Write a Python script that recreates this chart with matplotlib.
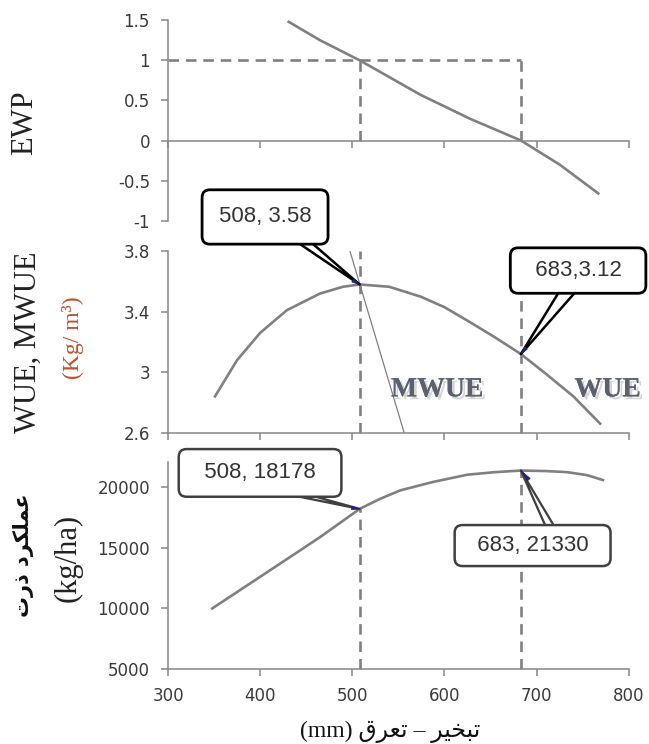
import matplotlib
matplotlib.use('Agg')
import matplotlib.pyplot as plt
import matplotlib.patheffects as pe

plt.rcParams['axes.unicode_minus'] = False
plt.rcParams['font.family'] = ['DejaVu Sans']

# ---------------- data ----------------
x_ticks = [300, 400, 500, 600, 700, 800]

ewp_x = [431, 465, 508, 574, 628, 683, 725, 767]
ewp_y = [1.48, 1.25, 1.0, 0.57, 0.27, 0.0, -0.30, -0.66]
ewp_ticks = [-1, -0.5, 0, 0.5, 1, 1.5]
ewp_labels = ['-1', '-0.5', '0', '0.5', '1', '1.5']

wue_x = [351, 375, 400, 429, 465, 490, 508, 540, 574, 600, 628, 655, 683, 710, 740, 769]
wue_y = [2.84, 3.08, 3.26, 3.41, 3.52, 3.565, 3.58, 3.565, 3.50, 3.43, 3.33, 3.23, 3.12, 2.99, 2.84, 2.66]
mwue_x = [497, 557]
mwue_y = [3.81, 2.585]
wue_ticks = [2.6, 3.0, 3.4, 3.8]
wue_labels = ['2.6', '3', '3.4', '3.8']

yield_x = [348, 380, 411, 440, 465, 508, 530, 552, 588, 625, 655, 683, 710, 733, 755, 772]
yield_y = [10000, 11600, 13150, 14600, 15860, 18178, 19000, 19700, 20400, 20990, 21200, 21330, 21290, 21200, 20950, 20550]
yield_ticks = [5000, 10000, 15000, 20000]

opt_x = [508, 683]          # ET at max WUE and max yield
opt_wue = [3.58, 3.12]
opt_yield = [18178, 21330]
ewp_ref = [1, 0]

# ---------------- simple Arabic shaping (presentation forms, visual order) ----------------
FORMS = {  # isolated, final, initial, medial
    'ع': ('\uFEC9', '\uFECA', '\uFECB', '\uFECC'),
    'م': ('\uFEE1', '\uFEE2', '\uFEE3', '\uFEE4'),
    'ل': ('\uFEDD', '\uFEDE', '\uFEDF', '\uFEE0'),
    'ک': ('\uFB8E', '\uFB8F', '\uFB90', '\uFB91'),
    'ر': ('\uFEAD', '\uFEAE', None, None),
    'د': ('\uFEA9', '\uFEAA', None, None),
    'ذ': ('\uFEAB', '\uFEAC', None, None),
    'ت': ('\uFE95', '\uFE96', '\uFE97', '\uFE98'),
    'ب': ('\uFE8F', '\uFE90', '\uFE91', '\uFE92'),
    'خ': ('\uFEA5', '\uFEA6', '\uFEA7', '\uFEA8'),
    'ی': ('\uFBFC', '\uFBFD', '\uFBFE', '\uFBFF'),
    'ق': ('\uFED5', '\uFED6', '\uFED7', '\uFED8'),
}


def rtl(text):
    out = []
    n = len(text)
    for i, ch in enumerate(text):
        f = FORMS.get(ch)
        if f is None:
            out.append(ch)
            continue
        prev = text[i - 1] if i > 0 else None
        nxt = text[i + 1] if i < n - 1 else None
        jp = prev in FORMS and FORMS[prev][2] is not None
        jn = nxt in FORMS and f[2] is not None
        if jp and jn:
            g = f[3]
        elif jp:
            g = f[1]
        elif jn:
            g = f[2]
        else:
            g = f[0]
        out.append(g)
    return ''.join(reversed(out))


yield_label_fa = 'عملکرد ذرت'
xlabel_fa = 'تبخیر – تعرق'

# ---------------- figure ----------------
W, H = 649, 744
fig = plt.figure(figsize=(W / 100, H / 100), dpi=100)


def rect(top_px, bottom_px, left_px=168, right_px=628.7):
    return [left_px / W, 1 - bottom_px / H, (right_px - left_px) / W, (bottom_px - top_px) / H]


ax1 = fig.add_axes(rect(20.2, 220.7))
ax2 = fig.add_axes(rect(251.2, 432.7))
ax3 = fig.add_axes(rect(462.4, 669.3))

SP = '#868686'
CUR = '#808080'
TXT = '#3a3a3a'

for ax in (ax1, ax2, ax3):
    for s in ('top', 'right'):
        ax.spines[s].set_visible(False)
    for s in ('left', 'bottom'):
        ax.spines[s].set_color(SP)
        ax.spines[s].set_linewidth(1.1)
    ax.set_xlim(300, 800)
    ax.set_xticks(x_ticks)
    ax.tick_params(axis='both', direction='out', length=5, width=1.1, color=SP,
                   labelsize=12, labelcolor=TXT, pad=8)
    ax.patch.set_alpha(0)

# top: EWP
ax1.set_ylim(-1, 1.5)
ax1.set_yticks(ewp_ticks)
ax1.set_yticklabels(ewp_labels)
ax1.spines['bottom'].set_position(('data', 0))
ax1.tick_params(axis='x', labelbottom=False)
ax1.plot(ewp_x, ewp_y, color=CUR, lw=1.9)

dash = (0, (4, 2.6))
ax1.plot([300, opt_x[1]], [ewp_ref[0], ewp_ref[0]], color=CUR, lw=1.9, linestyle=dash, clip_on=False)
for xv in opt_x:
    ax1.plot([xv, xv], [ewp_ref[1], ewp_ref[0]], color=CUR, lw=1.9, linestyle=dash, clip_on=False)

# middle: WUE / MWUE
ax2.set_ylim(2.6, 3.8)
ax2.set_yticks(wue_ticks)
ax2.set_yticklabels(wue_labels)
ax2.tick_params(axis='x', labelbottom=False)
ax2.plot(wue_x, wue_y, color=CUR, lw=1.9)
ax2.plot(mwue_x, mwue_y, color=CUR, lw=0.9)
ax2.plot([opt_x[0], opt_x[0]], [2.6, 3.8], color=CUR, lw=1.9, linestyle=dash, clip_on=False)
ax2.plot([opt_x[1], opt_x[1]], [2.6, 3.55], color=CUR, lw=1.9, linestyle=dash, clip_on=False)

shadow = [pe.withSimplePatchShadow(offset=(2, -2), shadow_rgbFace='#bbbbbb', alpha=0.6), pe.Normal()]
ax2.text(592, 2.883, 'MWUE', fontsize=20, fontweight='bold', family='Liberation Serif',
         color='#5c6070', ha='center', va='center', path_effects=shadow)
ax2.text(777, 2.883, 'WUE', fontsize=20, fontweight='bold', family='Liberation Serif',
         color='#5c6070', ha='center', va='center', path_effects=shadow, clip_on=False)

# bottom: yield
ax3.set_ylim(5000, 22000)
ax3.set_yticks(yield_ticks)
ax3.plot(yield_x, yield_y, color=CUR, lw=1.9)
ax3.plot([opt_x[0], opt_x[0]], [5000, opt_yield[0]], color=CUR, lw=1.9, linestyle=dash, clip_on=False)
ax3.plot([opt_x[1], opt_x[1]], [5000, opt_yield[1]], color=CUR, lw=1.9, linestyle=dash, clip_on=False)


def callout(ax, label, xy, off, relpos, ec, lw, pad, tw, tip):
    ax.annotate(label, xy=xy, xytext=off, textcoords='offset pixels',
                ha='center', va='center', fontsize=16, family='Liberation Sans', color='#333333',
                bbox=dict(boxstyle='round,pad=%s,rounding_size=0.35' % pad, fc='white', ec=ec, lw=lw),
                arrowprops=dict(arrowstyle='wedge,tail_width=%s' % tw, fc='white', ec=ec, lw=lw * 0.9,
                                relpos=relpos, shrinkA=0, shrinkB=0, patchA=None),
                annotation_clip=False, zorder=6)
    # small dark-blue tip at the pointed end
    ax.annotate('', xy=xy, xytext=tip, textcoords='offset pixels',
                arrowprops=dict(arrowstyle='wedge,tail_width=0.25', fc='#1a237e', ec='#1a237e', lw=0.5,
                                shrinkA=0, shrinkB=0),
                annotation_clip=False, zorder=7)


callout(ax2, '%d, %.2f' % (opt_x[0], opt_wue[0]), (opt_x[0], opt_wue[0]), (-94.6, 67.5), (0.72, 0.0),
        'black', 2.0, 0.75, 0.5, (-7, 4))
callout(ax2, '  %d,%.2f  ' % (opt_x[1], opt_wue[1]), (opt_x[1], opt_wue[1]), (57.2, 83.5), (0.47, 0.0),
        'black', 2.0, 0.55, 0.7, (5, 6))
callout(ax3, '  %d, %d  ' % (opt_x[0], opt_yield[0]), (opt_x[0], opt_yield[0]), (-99.6, 36.0), (0.45, 0.0),
        '#404040', 1.8, 0.6, 0.35, (-8, 1))
callout(ax3, '  %d, %d  ' % (opt_x[1], opt_yield[1]), (opt_x[1], opt_yield[1]), (11.7, -75.0), (0.66, 1.0),
        '#404040', 1.8, 0.45, 0.4, (8, -9))

# axis titles
def ftext(xp, yp, s, **kw):
    fig.text(xp / W, 1 - yp / H, s, ha='center', va='center', **kw)


ftext(25, 123, 'EWP', rotation=90, fontsize=22, family='Liberation Serif', color='#222222')
ftext(28, 342, 'WUE, MWUE', rotation=90, fontsize=22, family='Liberation Serif', color='#222222')
ftext(73, 338, '(Kg/ m³)', rotation=90, fontsize=17, family='Liberation Serif', color='#c0502a')
ftext(23, 555, rtl(yield_label_fa), rotation=90, fontsize=15, fontweight='bold',
      family=['DejaVu Sans'], color='#111111')
ftext(68, 558, '(kg/ha)', rotation=90, fontsize=22, family='Liberation Serif', color='#222222')
ftext(390, 732, '(mm) ' + rtl(xlabel_fa), fontsize=17, family=['Liberation Serif', 'DejaVu Sans'],
      color='#111111')

fig.savefig('out.png', dpi=100)
